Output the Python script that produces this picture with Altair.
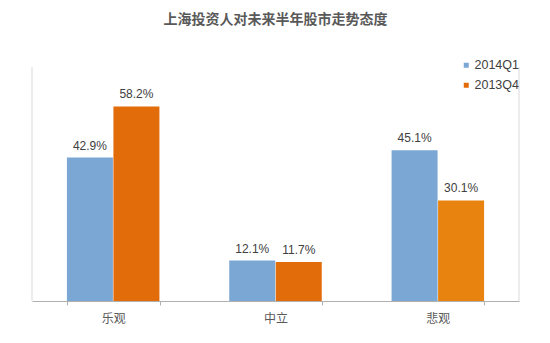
import altair as alt
import pandas as pd

categories = ["乐观", "中立", "悲观"]
series = ["2014Q1", "2013Q4"]
values_2014q1 = [42.9, 12.1, 45.1]
values_2013q4 = [58.2, 11.7, 30.1]
color_keys_2013q4 = ["2013Q4", "2013Q4", "2013Q4b"]

rows = []
for i, c in enumerate(categories):
    rows.append({"cat": c, "series": "2014Q1", "key": "2014Q1", "v": values_2014q1[i],
                 "label": f"{values_2014q1[i]:.1f}%"})
    rows.append({"cat": c, "series": "2013Q4", "key": color_keys_2013q4[i], "v": values_2013q4[i],
                 "label": f"{values_2013q4[i]:.1f}%"})
df = pd.DataFrame(rows)

FONT = "Liberation Sans, Noto Sans CJK SC"
W, H = 487, 234

x = alt.X("cat:N", sort=categories, title=None,
          scale=alt.Scale(paddingInner=0.427, paddingOuter=0.2135),
          axis=alt.Axis(labelAngle=0, tickBand="extent", domainColor="#B0B0B0",
                        tickColor="#B0B0B0", tickSize=4, labelColor="#595959",
                        labelFontSize=12, labelFont="Noto Sans CJK SC", labelPadding=8))
xo = alt.XOffset("series:N", sort=series)
y = alt.Y("v:Q", scale=alt.Scale(domain=[0, 70]), axis=None)

bars = alt.Chart(df).mark_bar(size=46).encode(
    x=x, xOffset=xo, y=y,
    color=alt.Color("key:N",
                    scale=alt.Scale(domain=["2014Q1", "2013Q4", "2013Q4b"],
                                    range=["#7BA7D4", "#E36C0A", "#E8830F"]),
                    legend=alt.Legend(values=["2014Q1", "2013Q4"], title=None,
                                      orient="none", legendX=428, legendY=-8,
                                      symbolType="square", symbolSize=25,
                                      labelFontSize=12.5, labelColor="#404040",
                                      labelOffset=2,
                                      labelFont=FONT, rowPadding=7, symbolStrokeWidth=0)),
)

labels = alt.Chart(df).mark_text(baseline="bottom", dy=-5, fontSize=12,
                                 color="#404040", font=FONT).encode(
    x=x, xOffset=xo, y=y, text="label:N")

left_edge = alt.Chart(df.head(1)).mark_rule(color="#D9D9D9", strokeWidth=1).encode(
    x=alt.value(0), x2=alt.value(0), y=alt.value(0), y2=alt.value(H))
right_edge = alt.Chart(df.head(1)).mark_rule(color="#D9D9D9", strokeWidth=1).encode(
    x=alt.value(W), x2=alt.value(W), y=alt.value(0), y2=alt.value(H))

chart = alt.layer(left_edge, right_edge, bars, labels).properties(
    width=W, height=H,
    background="white",
    title=alt.Title("上海投资人对未来半年股市走势态度", fontSize=14, color="#595959",
                    font="Noto Sans CJK SC", fontWeight="bold", offset=32, anchor="middle"),
    autosize=alt.AutoSizeParams(type="none"),
    padding={"left": 32, "top": 67, "right": 31, "bottom": 42},
).configure_view(stroke=None, strokeWidth=0)

chart.save("out.html", embed_options={"renderer": "svg", "actions": False})
